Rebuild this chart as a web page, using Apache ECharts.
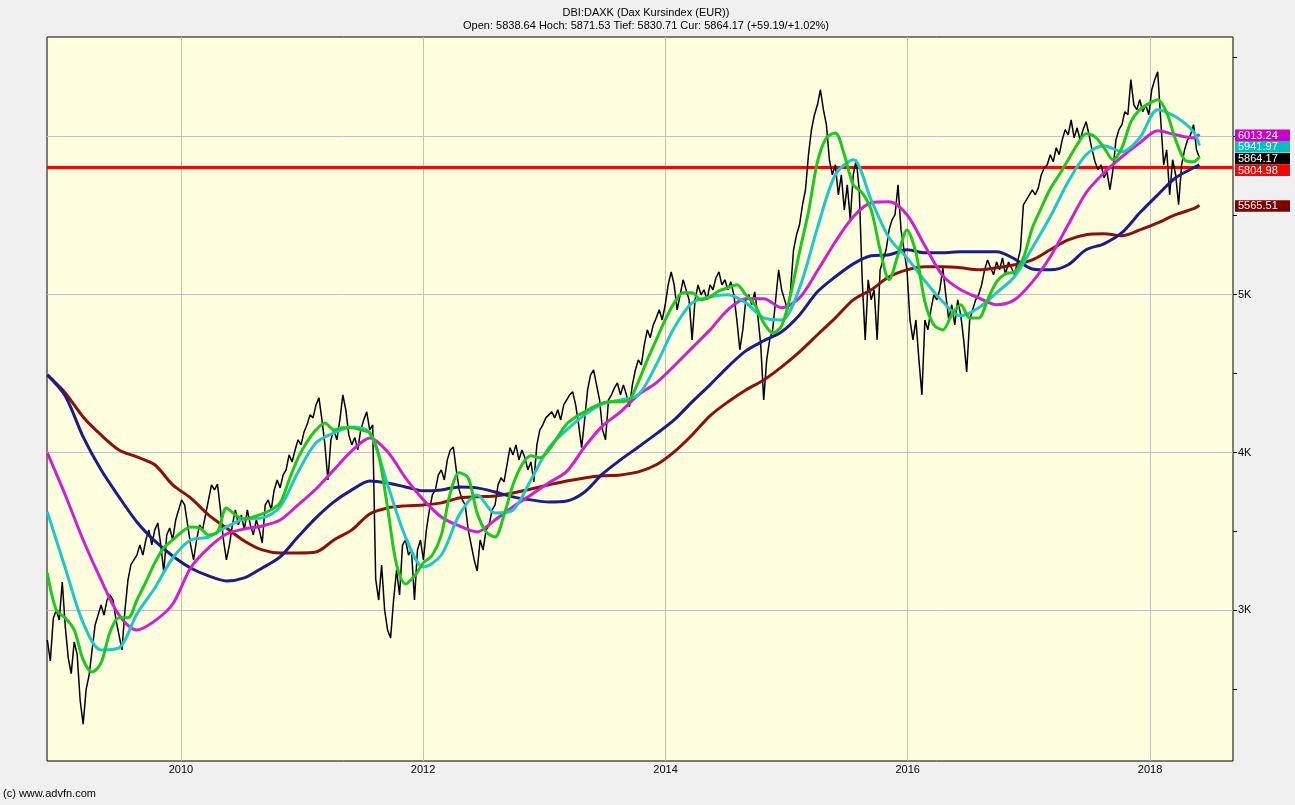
<!DOCTYPE html>
<html><head><meta charset="utf-8">
<script src="https://cdn.jsdelivr.net/npm/echarts@6/dist/echarts.min.js"></script>
<style>html,body{margin:0;padding:0;background:#f0f0f0;}#c{width:1295px;height:805px;}</style>
</head><body><div id="c"></div>
<script>
const titleLine1 = 'DBI:DAXK (Dax Kursindex (EUR))';
const titleLine2 = 'Open: 5838.64 Hoch: 5871.53 Tief: 5830.71 Cur: 5864.17 (+59.19/+1.02%)';
const copyright = '(c) www.advfn.com';
const yearLabels = ['2010', '2012', '2014', '2016', '2018'];
const yGridValues = [3000, 4000, 5000, 6000];
const yTickLabels = {3000: '3K', 4000: '4K', 5000: '5K'};
const levelLine = 5804.98;
const stepDays = 9; // price samples every 9 days from 2008-11-24

const price = [
2813,2680,2950,3000,2940,3180,2900,2700,2600,2800,
2720,2430,2280,2500,2590,2750,2908,2970,3035,2970,
3066,3098,3066,2940,2845,2750,3000,3190,3290,3320,
3350,3415,3350,3446,3510,3415,3510,3554,3415,3244,
3478,3522,3446,3573,3637,3700,3668,3542,3415,3320,
3446,3542,3510,3605,3700,3795,3763,3800,3637,3446,
3320,3415,3542,3637,3542,3605,3510,3637,3542,3478,
3573,3510,3427,3668,3700,3637,3763,3826,3776,3858,
3890,3985,3940,4016,4080,4048,4130,4175,4238,4219,
4300,4346,4206,4048,3826,4080,4143,4080,4206,4365,
4270,4111,4048,4095,4016,4143,4206,4257,4143,4175,
3200,3066,3288,3003,2876,2826,3066,3256,3098,3415,
3446,3351,3383,3066,3383,3446,3320,3510,3637,3732,
3763,3858,3890,3826,3953,4016,4035,3890,3763,3700,
3668,3510,3415,3320,3250,3446,3383,3510,3542,3637,
3668,3795,3840,3814,3922,4030,3985,4048,3953,4016,
3966,3890,3940,3814,4048,4143,4175,4219,4238,4257,
4219,4270,4206,4301,4333,4365,4384,4301,4175,4030,
4206,4396,4491,4522,4428,4333,4143,4080,4333,4365,
4409,4440,4365,4428,4365,4289,4428,4522,4586,4555,
4681,4776,4726,4808,4852,4903,4839,4935,5061,5143,
5061,4903,4998,5093,5030,4966,4713,4966,5061,4998,
5030,4966,5061,5030,5106,5143,5061,5093,5030,5080,
4998,4839,4650,4776,4966,4998,4935,5017,4871,4681,
4333,4586,4713,4776,4966,5156,5030,4966,4903,5030,
5283,5378,5441,5568,5663,5885,6043,6138,6201,6296,
6170,6075,5853,5758,5821,5631,5758,5536,5694,5473,
5758,5853,5663,5093,4713,5093,4966,5030,4713,5156,
5219,5283,5409,5473,5505,5694,5409,5283,5156,4839,
4713,4839,4586,4365,4839,4776,4903,4998,4966,5030,
5169,4998,4839,4935,4808,4966,4871,4713,4510,4839,
4903,4966,4998,5061,5156,5219,5169,5125,5207,5156,
5232,5125,5207,5169,5125,5207,5283,5568,5599,5631,
5663,5631,5675,5758,5802,5821,5885,5840,5929,5885,
5979,6043,6011,6106,5992,6055,5979,6043,6094,6011,
5916,5840,5789,5821,5739,5777,5663,5789,5979,6043,
6075,6157,6138,6360,6201,6170,6233,6157,6201,6138,
6296,6360,6410,6106,5821,5916,5631,5853,5758,5568,
5821,5916,5979,6011,6075,5916,5864.17
];

// green: one value every 3rd price sample
const maGreen = [
3237,3003,2953,2877,2687,2610,2668,2864,2953,2953,
3066,3180,3301,3396,3446,3497,3529,3522,3478,3497,
3649,3605,3579,3592,3611,3637,3681,3826,3966,4067,
4143,4187,4143,4156,4156,4143,4124,3985,3649,3288,
3168,3218,3301,3351,3478,3744,3871,3839,3617,3497,
3465,3605,3795,3922,3979,3966,4016,4099,4181,4225,
4257,4289,4314,4321,4321,4333,4447,4586,4713,4839,
4947,5011,5011,4966,4985,5023,5042,5061,4998,4935,
4821,4757,4802,4998,5270,5523,5840,5992,6023,5885,
5694,5644,5536,5283,5093,5251,5409,5264,4954,4808,
4776,4871,4935,4852,4852,4966,5080,5131,5143,5232,
5422,5549,5669,5758,5853,5948,6017,5998,5929,5853,
5929,6093,6170,6208,6233,6151,5979,5853,5840,5872
];
// the others: one value every 6th price sample
const maCyan = [
3624,3269,2921,2750,2763,2978,3142,3332,3446,3465,
3529,3579,3586,3656,3877,4061,4124,4162,4124,3795,
3465,3275,3351,3605,3731,3617,3636,3826,4029,4143,
4238,4308,4333,4365,4555,4789,4947,4985,4998,4947,
4852,4839,5042,5422,5758,5853,5599,5359,5232,5086,
4954,4865,4916,5011,5112,5296,5492,5713,5885,5942,
5904,5992,6170,6125,6030,5941.97
];
const maMagenta = [
3997,3731,3446,3193,2972,2877,2934,3041,3269,3396,
3484,3516,3535,3573,3668,3769,3890,4010,4092,4004,
3839,3700,3592,3535,3497,3573,3656,3731,3808,3880,
4035,4168,4257,4365,4441,4548,4662,4776,4903,4973,
4973,4916,4979,5150,5334,5492,5581,5587,5505,5308,
5118,5030,4979,4935,4966,5080,5239,5441,5644,5770,
5872,5960,6036,6011,5992,6013.24
];
const maBlue = [
4491,4358,4099,3890,3719,3560,3440,3345,3269,3219,
3187,3206,3269,3339,3466,3586,3687,3763,3820,3807,
3782,3757,3763,3782,3776,3750,3719,3700,3687,3693,
3750,3864,3953,4035,4118,4206,4320,4428,4542,4643,
4707,4764,4871,5017,5112,5194,5245,5251,5283,5264,
5264,5270,5270,5270,5226,5162,5156,5188,5283,5321,
5391,5517,5631,5739,5802,5821
];
const maDarkRed = [
4491,4377,4225,4111,4016,3972,3922,3795,3712,3605,
3522,3440,3383,3364,3364,3370,3446,3510,3611,3649,
3662,3668,3681,3712,3719,3725,3744,3769,3795,3820,
3839,3852,3858,3877,3922,4004,4111,4232,4320,4396,
4459,4542,4637,4745,4852,4966,5030,5112,5156,5175,
5175,5169,5156,5169,5188,5219,5283,5346,5378,5384,
5372,5409,5454,5505,5543,5565.51
];

const DAY = 86400000;
const t0 = Date.UTC(2008, 10, 23);
const axisMin = t0, axisMax = Date.UTC(2018, 8, 8);
const lastIdx = price.length - 1;
function dateOf(i) { return t0 + (1 + stepDays * i) * DAY; }
function toSeries(vals, every) { return vals.map((v, k) => [dateOf(Math.min(k * every, lastIdx)), v]); }

const FONT = '"Liberation Sans", Arial, sans-serif';
const chart = echarts.init(document.getElementById('c'));

const gridLineStyle = {color: '#c0c0c0', width: 1, type: 'solid'};
const markData = [];
yearLabels.forEach(y => markData.push({
  xAxis: Date.UTC(+y, 0, 1), lineStyle: gridLineStyle,
  label: {show: true, position: 'start', formatter: y, color: '#000', fontSize: 11, fontFamily: FONT, distance: 3}
}));
yGridValues.forEach(v => markData.push({yAxis: v, lineStyle: gridLineStyle, label: {show: false}}));
markData.push({yAxis: levelLine, lineStyle: {color: '#ff0000', width: 3, type: 'solid'}, label: {show: false}});

function maSeries(name, vals, every, color, z) {
  return {name, type: 'line', data: toSeries(vals, every), showSymbol: false, smooth: 0.3,
    lineStyle: {color, width: 3}, itemStyle: {color}, z, silent: true};
}

chart.setOption({
  animation: false,
  backgroundColor: '#f0f0f0',
  grid: {left: 47, top: 37, width: 1186, height: 724, show: true, backgroundColor: '#ffffe0', borderColor: '#000', borderWidth: 1},
  xAxis: {type: 'time', min: axisMin, max: axisMax, axisLabel: {show: false}, axisTick: {show: false}, splitLine: {show: false}, axisLine: {show: false}},
  yAxis: {type: 'value', position: 'right', min: 2047, max: 6630, splitNumber: 9, minInterval: 500, maxInterval: 500, scale: true,
    axisLine: {show: false}, splitLine: {show: false},
    axisTick: {show: true, length: 4, lineStyle: {color: '#000'}},
    axisLabel: {color: '#000', fontSize: 11, fontFamily: FONT, margin: 5, showMinLabel: false, showMaxLabel: false,
      formatter: v => yTickLabels[v] || ''}},
  series: [
    {name: 'DAXK', type: 'line', data: toSeries(price, 1), showSymbol: false, lineStyle: {color: '#000', width: 1.5}, z: 3, silent: true,
      markLine: {silent: true, symbol: ['none', 'none'], z: 1, animation: false, data: markData}},
    maSeries('MA dark red', maDarkRed, 6, '#8b1010', 4),
    maSeries('MA blue', maBlue, 6, '#1c1c8c', 4),
    maSeries('MA magenta', maMagenta, 6, '#d21ed2', 4),
    maSeries('MA cyan', maCyan, 6, '#1ec8c8', 4),
    maSeries('MA green', maGreen, 3, '#1ec81e', 4)
  ]
});

// value boxes on the right axis
const boxes = [
  {v: maMagenta[maMagenta.length - 1], bg: '#cc00cc'},
  {v: maCyan[maCyan.length - 1], bg: '#00c0c0'},
  {v: price[lastIdx], bg: '#000000'},
  {v: levelLine, bg: '#ff0000'},
  {v: maDarkRed[maDarkRed.length - 1], bg: '#800000'}
].map(b => Object.assign(b, {y: chart.convertToPixel({yAxisIndex: 0}, b.v)})).sort((a, b) => a.y - b.y);
const H = 11.5;
let prevBottom = -1e9;
const graphics = [];
boxes.forEach(b => {
  let top = b.y - 5;
  if (top < prevBottom) top = prevBottom;
  prevBottom = top + H;
  graphics.push({type: 'rect', shape: {x: 1235, y: top, width: 55, height: H}, style: {fill: b.bg}, z: 100});
  graphics.push({type: 'text', x: 1238, y: top + H / 2 + 0.5, style: {text: b.v.toFixed(2), fill: '#fff', font: '11px ' + FONT, textVerticalAlign: 'middle'}, z: 101});
});
graphics.push({type: 'text', x: 646, y: 13, style: {text: titleLine1, fill: '#000', font: '11px ' + FONT, textAlign: 'center', textVerticalAlign: 'middle'}});
graphics.push({type: 'text', x: 646, y: 26, style: {text: titleLine2, fill: '#000', font: '11px ' + FONT, textAlign: 'center', textVerticalAlign: 'middle'}});
graphics.push({type: 'text', x: 3, y: 794, style: {text: copyright, fill: '#000', font: '11px ' + FONT, textVerticalAlign: 'middle'}});
chart.setOption({graphic: graphics});
</script>
</body></html>
